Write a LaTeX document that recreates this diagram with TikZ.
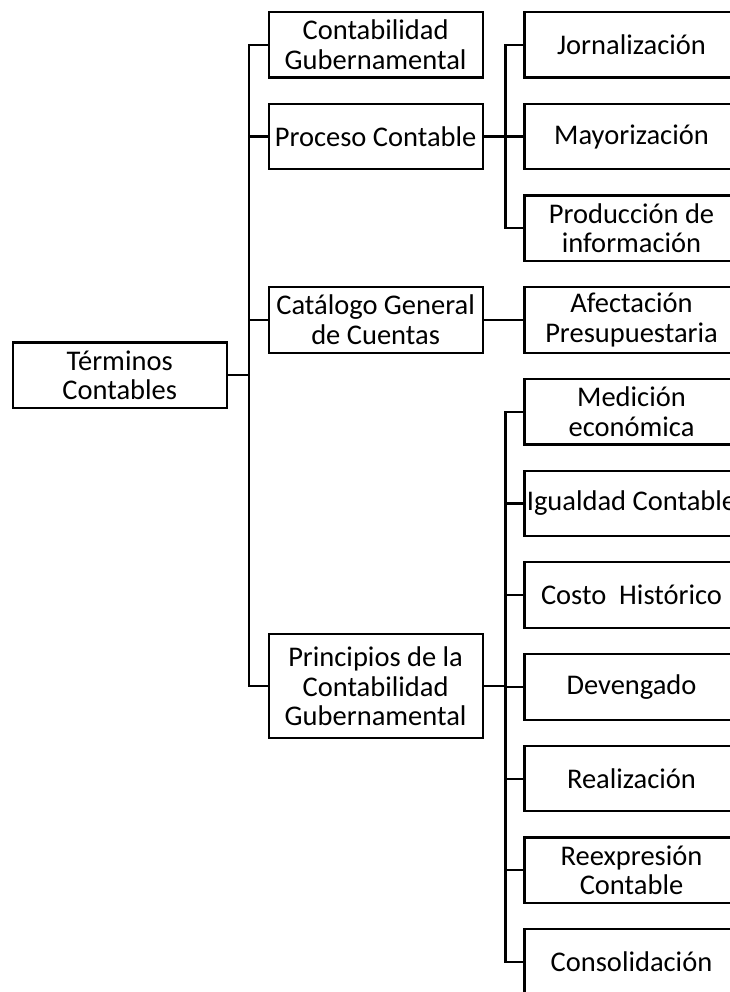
\documentclass[tikz,border=0pt]{standalone}
\usepackage{fontspec}
\setmainfont{Carlito}
\begin{document}
\begin{tikzpicture}[x=1pt,y=-1pt,
  box/.style={draw, line width=2.2pt, minimum width=214pt, minimum height=65.5pt,
    inner sep=1pt, align=center, font=\fontsize{28.5}{29.5}\selectfont},
  link/.style={line width=2.2pt}]
\useasboundingbox (0,0) rectangle (729,992);
\fill[white] (0,0) rectangle (729,992);

% root
\node[box] (root) at (119.7,375.3) {Términos\\Contables};

% second level
\node[box] (cg)  at (375.6,44.8)  {Contabilidad\\Gubernamental};
\node[box] (pc)  at (375.6,136.5) {Proceso Contable};
\node[box] (cat) at (375.6,319.9) {Catálogo General\\de Cuentas};
\node[box, minimum height=104pt] (pcg) at (375.6,686.3) {Principios de la\\Contabilidad\\Gubernamental};

% third level
\node[box] (jor) at (631.5,44.8)  {Jornalización};
\node[box] (may) at (631.5,136.5) {Mayorización};
\node[box] (pro) at (631.5,228.2) {Producción de\\información};
\node[box] (afe) at (631.5,319.9) {Afectación\\Presupuestaria};
\node[box] (med) at (631.5,411.7) {Medición\\económica};
\node[box] (igu) at (631.5,503.4) {Igualdad Contable};
\node[box] (cos) at (631.5,595.1) {Costo\ \ Histórico};
\node[box] (dev) at (631.5,686.9) {Devengado};
\node[box] (rea) at (631.5,778.6) {Realización};
\node[box] (ree) at (631.5,870.3) {Reexpresión\\Contable};
\node[box] (con) at (631.5,962.1) {Consolidación};

% connectors from the root
\draw[link] (root.east) -- ++(21,0) coordinate (tr);
\foreach \c in {cg,pc,cat,pcg} \draw[link] (tr) |- (\c.west);

% connectors of Proceso Contable
\draw[link] (pc.east) -- ++(21.8,0) coordinate (tp);
\foreach \c in {jor,may,pro} \draw[link] (tp) |- (\c.west);

% Catálogo to Afectación
\draw[link] (cat.east) -- (afe.west);

% connectors of the principles
\draw[link] (pcg.east) -- ++(21.8,0) coordinate (tq);
\foreach \c in {med,igu,cos,dev,rea,ree,con} \draw[link] (tq) |- (\c.west);
\end{tikzpicture}
\end{document}
